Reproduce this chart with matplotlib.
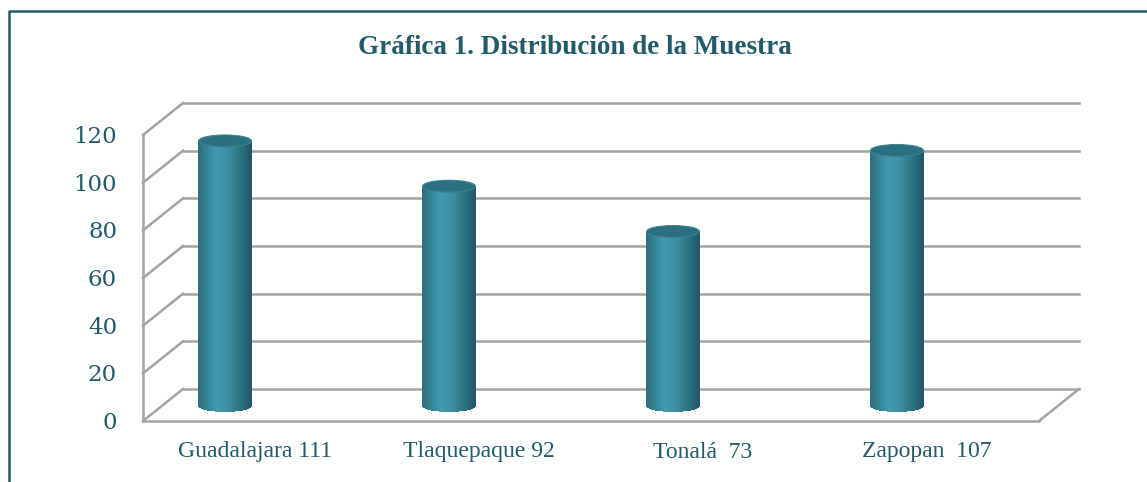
import matplotlib.pyplot as plt
import matplotlib.transforms as mtransforms
from matplotlib.colors import LinearSegmentedColormap
from matplotlib.patches import Ellipse, Polygon
from matplotlib.lines import Line2D
import numpy as np

# data
categories = ["Guadalajara 111", "Tlaquepaque 92", "Tonalá  73", "Zapopan  107"]
values = [111, 92, 73, 107]
yticks = [0, 20, 40, 60, 80, 100, 120]

teal = "#215a69"
grid_col = "#a3a3a3"

fig = plt.figure(figsize=(11.47, 4.82), dpi=100)
fig.patch.set_facecolor("white")

# front plane of the 3d box
ax = fig.add_axes([143 / 1147, 61 / 482, 896 / 1147, 286 / 482])
ax.set_xlim(-0.5, len(categories) - 0.5)
ax.set_ylim(0, 120)
ax.axis("off")


def shift(dx, dy):
    # pixel offset on top of data coords
    return ax.transData + mtransforms.ScaledTranslation(dx / 100, dy / 100, fig.dpi_scale_trans)


back = shift(40, 32)
mid = shift(-30, 15.5)
x0, x1 = ax.get_xlim()

# back wall grid + side wall diagonals
for v in yticks:
    ax.plot([x0, x1], [v, v], color=grid_col, lw=1.8, transform=back, clip_on=False, zorder=1)
    p_front = ax.transData.transform((x0, v))
    p_back = back.transform((x0, v))
    fig.add_artist(Line2D([p_front[0], p_back[0]], [p_front[1], p_back[1]],
                          transform=None, color=grid_col, lw=1.8, zorder=1))

# front left edge and floor
ax.plot([x0, x0], [0, 120], color=grid_col, lw=1.8, clip_on=False, zorder=1)
ax.plot([x0, x1], [0, 0], color=grid_col, lw=1.8, clip_on=False, zorder=1)
pf = ax.transData.transform((x1, 0))
pb = back.transform((x1, 0))
fig.add_artist(Line2D([pf[0], pb[0]], [pf[1], pb[1]], transform=None,
                      color=grid_col, lw=1.8, zorder=1))

# cylinders
cmap = LinearSegmentedColormap.from_list(
    "cyl", [(0, "#2a6e80"), (0.35, "#4399af"), (0.6, "#3a8ca2"), (1, "#1f5766")])
r = 0.118
b = 2.5
n = 60
ts = np.linspace(-1, 1, n + 1)
for i, v in enumerate(values):
    for k in range(n):
        ta, tb = ts[k], ts[k + 1]
        ya = -b * np.sqrt(max(0, 1 - ta ** 2))
        yb = -b * np.sqrt(max(0, 1 - tb ** 2))
        poly = Polygon([(i + r * ta, ya), (i + r * tb, yb), (i + r * tb, v), (i + r * ta, v)],
                       closed=True, facecolor=cmap((ta + tb) / 4 + 0.5), edgecolor="none",
                       transform=mid, clip_on=False, zorder=3, antialiased=False)
        ax.add_patch(poly)
    top = Ellipse((i, v), 2 * r, 2 * b, facecolor="#2c6f81", edgecolor="#3a8396",
                  lw=0.8, transform=mid, clip_on=False, zorder=4)
    ax.add_patch(top)

# y labels
for v in yticks:
    ax.text(x0, v, str(v), transform=shift(-26, -2), ha="right", va="center",
            fontsize=16.5, family="DejaVu Serif", color=teal, clip_on=False)

# x labels
for i, c in enumerate(categories):
    ax.text(i, 0, c, transform=shift(0, -31), ha="center", va="center",
            fontsize=17, family="Liberation Serif", color=teal, clip_on=False)

fig.text(575 / 1147, 1 - 48 / 482, "Gráfica 1. Distribución de la Muestra",
         ha="center", va="center", fontsize=19.5, fontweight="bold",
         family="Liberation Serif", color=teal)

# frame (top and left only visible)
fig.add_artist(Line2D([9 / 1147, 9 / 1147, 1], [0, 1 - 10.5 / 482, 1 - 10.5 / 482],
                      transform=fig.transFigure, color=teal, lw=1.8))

fig.savefig("out.png", dpi=100)
